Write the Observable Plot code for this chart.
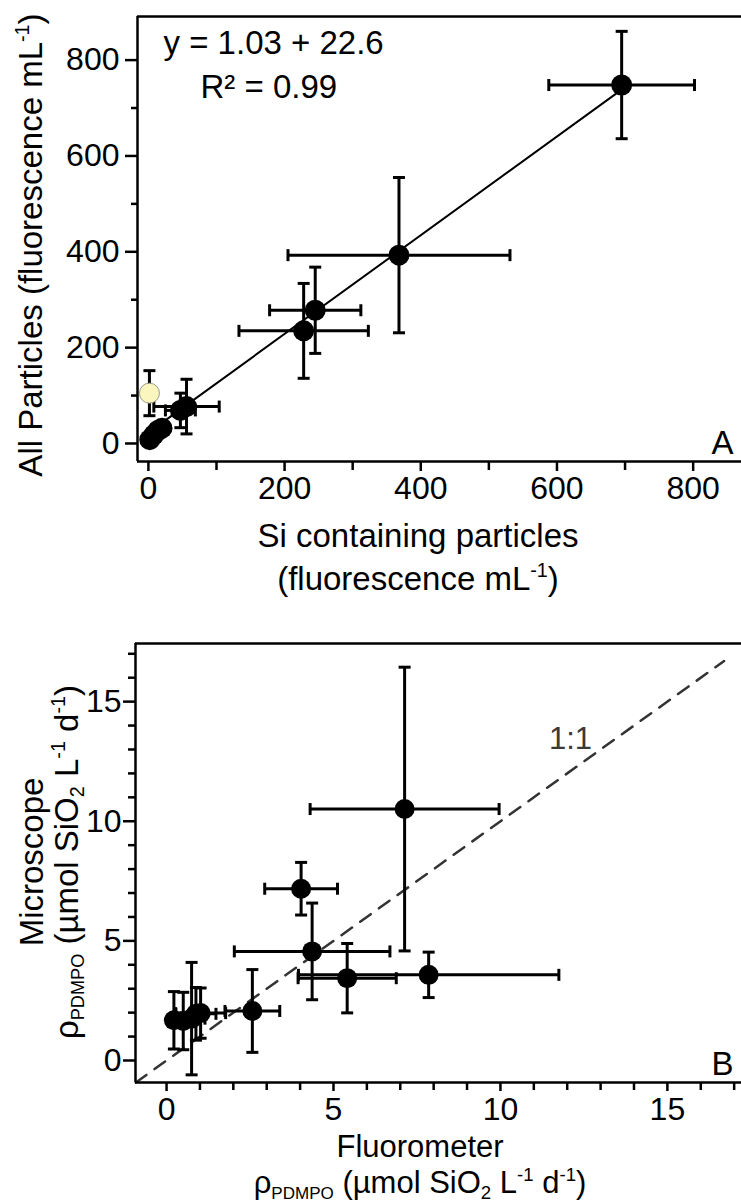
<!DOCTYPE html>
<html><head><meta charset="utf-8">
<script src="https://cdn.jsdelivr.net/npm/d3@7"></script>
<script src="https://cdn.jsdelivr.net/npm/@observablehq/plot@0.6"></script>
<style>
body{margin:0;background:#fff;}
#c{width:741px;}
#c svg{display:block;}
</style></head><body><div id="c"></div>
<script>
// ---------- Panel A data ----------
const siParticles   = [695, 368, 245, 228, 56, 47, 2, 8, 14, 20];
const allParticles  = [748, 393, 278, 235, 77, 69, 8, 18, 27, 32];
const siErr         = [107, 163, 67, 95, 48, 22, 0, 0, 0, 0];
const allErr        = [112, 162, 90, 99, 57, 36, 0, 0, 0, 0];
const outlierSi     = [1.5];
const outlierAll    = [105];
const outlierAllErr = [47];
const fitSlope = 1.03, fitIntercept = 22.6;
const fitXs = [0, 695];
const aMajorTicks = [0, 200, 400, 600, 800];
const aMinorTicks = [100, 300, 500, 700];

// ---------- Panel B data ----------
const fluorometer = [7.13, 4.03, 4.36, 5.41, 7.85, 2.57, 0.22, 0.5, 0.75, 0.88, 1.02];
const microscope  = [10.51, 7.18, 4.56, 3.44, 3.58, 2.07, 1.68, 1.65, 1.75, 1.95, 1.98];
const fluorErr    = [2.83, 1.09, 2.33, 1.47, 3.9, 0.82, 0.15, 0.25, 0.4, 0.6, 0.75];
const microErr    = [5.93, 1.1, 2.02, 1.45, 0.95, 1.73, 1.2, 1.2, 2.35, 1.1, 1.05];
const oneToOneXs  = [-0.92, 16.7];
const bMajorTicks = [0, 5, 10, 15];
const bMinorTicks = [1, 2, 3, 4, 6, 7, 8, 9, 11, 12, 13, 14, 16, 17];

const FONT = '"Liberation Sans", Arial, Helvetica, sans-serif';
const hCap = {draw(ctx, size){ const r = Math.sqrt(size / Math.PI); ctx.moveTo(-r, 0); ctx.lineTo(r, 0); }};
const vCap = {draw(ctx, size){ const r = Math.sqrt(size / Math.PI); ctx.moveTo(0, -r); ctx.lineTo(0, r); }};

function errorMarks(rows, sw, capR) {
  const vr = rows.filter(d => d.ye > 0), hr = rows.filter(d => d.xe > 0);
  return [
    Plot.ruleX(vr, {x: "x", y1: d => d.y - d.ye, y2: d => d.y + d.ye, strokeWidth: sw, stroke: "black"}),
    Plot.ruleY(hr, {y: "y", x1: d => d.x - d.xe, x2: d => d.x + d.xe, strokeWidth: sw, stroke: "black"}),
    Plot.dot(vr.flatMap(d => [{x: d.x, y: d.y - d.ye}, {x: d.x, y: d.y + d.ye}]),
      {x: "x", y: "y", symbol: hCap, r: capR, stroke: "black", strokeWidth: sw, fill: "none"}),
    Plot.dot(hr.flatMap(d => [{x: d.x - d.xe, y: d.y}, {x: d.x + d.xe, y: d.y}]),
      {x: "x", y: "y", symbol: vCap, r: capR, stroke: "black", strokeWidth: sw, fill: "none"})
  ];
}

function addText(svg, x, y, rotate, anchor, parts, size) {
  const t = svg.append("text")
    .attr("transform", `translate(${x},${y})` + (rotate ? ` rotate(${rotate})` : ""))
    .attr("text-anchor", anchor).attr("font-family", FONT).attr("font-size", size)
    .attr("fill", "black");
  let shift = 0;
  for (const p of parts) {
    const s = t.append("tspan").text(p.t);
    const target = p.sup ? -size * 0.38 : p.sub ? size * 0.18 : 0;
    if (target !== shift) { s.attr("dy", target - shift); shift = target; }
    if (p.sup || p.sub) s.attr("font-size", size * (p.small || 0.6));
  }
  return t;
}

// ---------- Panel A ----------
const rowsA = siParticles.map((x, i) => ({x, y: allParticles[i], xe: siErr[i], ye: allErr[i]}));
const outRows = outlierSi.map((x, i) => ({x, y: outlierAll[i], xe: 0, ye: outlierAllErr[i]}));
const fitRows = fitXs.map(x => ({x, y: fitIntercept + fitSlope * x}));
const xA = [-16, 871], yA = [-37.6, 891];

const plotA = Plot.plot({
  width: 741, height: 610,
  marginLeft: 137, marginRight: 0, marginTop: 16, marginBottom: 149,
  x: {domain: xA}, y: {domain: yA},
  style: {fontSize: "32px", fontFamily: FONT, color: "black", background: "white"},
  marks: [
    Plot.line(fitRows, {x: "x", y: "y", stroke: "black", strokeWidth: 2}),
    ...errorMarks(rowsA, 3, 6),
    ...errorMarks(outRows, 3, 6),
    Plot.dot(rowsA, {x: "x", y: "y", r: 10.5, fill: "black"}),
    Plot.dot(outRows, {x: "x", y: "y", r: 10, fill: "#fbf6bd", stroke: "#9a9a8a", strokeWidth: 1}),
    Plot.ruleX([xA[0]], {strokeWidth: 2.5}),
    Plot.ruleY(yA, {strokeWidth: 2.5}),
    Plot.axisX({ticks: aMajorTicks, tickSize: 10, tickPadding: 5, strokeWidth: 2.5, label: null, tickFormat: d => String(d)}),
    Plot.axisX({ticks: aMinorTicks, tickSize: 9, strokeWidth: 2.5, label: null, text: null}),
    Plot.axisY({ticks: aMajorTicks, tickSize: 12, tickPadding: 6, strokeWidth: 2.5, label: null, tickFormat: d => String(d)}),
    Plot.axisY({ticks: aMinorTicks, tickSize: 6, strokeWidth: 2.5, label: null, text: null}),
    Plot.text(["y = 1.03 + 22.6"], {frameAnchor: "top-left", dx: 26, dy: 14, textAnchor: "start", lineAnchor: "top", fontSize: 33}),
    Plot.text(["R\u00b2 = 0.99"], {frameAnchor: "top-left", dx: 63, dy: 58, textAnchor: "start", lineAnchor: "top", fontSize: 33}),
    Plot.text(["A"], {frameAnchor: "bottom-right", dx: -8, dy: -8, textAnchor: "end", lineAnchor: "bottom", fontSize: 33})
  ]
});

// ---------- Panel B ----------
const rowsB = fluorometer.map((x, i) => ({x, y: microscope[i], xe: fluorErr[i], ye: microErr[i]}));
const oneRows = oneToOneXs.map(v => ({x: v, y: v}));
const xB = [-0.93, 17.22], yB = [-0.92, 17.43];

const plotB = Plot.plot({
  width: 741, height: 594,
  marginLeft: 135, marginRight: 0, marginTop: 33, marginBottom: 122,
  x: {domain: xB}, y: {domain: yB},
  style: {fontSize: "32px", fontFamily: FONT, color: "black", background: "white"},
  marks: [
    Plot.line(oneRows, {x: "x", y: "y", stroke: "#333", strokeWidth: 2.5, strokeDasharray: "13,10"}),
    Plot.text([{x: 12.1, y: 13.45, t: "1:1"}], {x: "x", y: "y", text: "t", fontSize: 31, fill: "#3a3a3a"}),
    ...errorMarks(rowsB, 3, 6),
    Plot.dot(rowsB, {x: "x", y: "y", r: 10, fill: "black"}),
    Plot.ruleX([xB[0]], {strokeWidth: 2.5}),
    Plot.ruleY(yB, {strokeWidth: 2.5}),
    Plot.axisX({ticks: bMajorTicks, tickSize: 9, tickPadding: 6, strokeWidth: 2.5, label: null, tickFormat: d => String(d)}),
    Plot.axisX({ticks: bMinorTicks, tickSize: 8, strokeWidth: 2.5, label: null, text: null}),
    Plot.axisY({ticks: bMajorTicks, tickSize: 12, tickPadding: 2, strokeWidth: 2.5, label: null, tickFormat: d => String(d)}),
    Plot.axisY({ticks: bMinorTicks, tickSize: 7, strokeWidth: 2.5, label: null, text: null}),
    Plot.text(["B"], {frameAnchor: "bottom-right", dx: -8, dy: -8, textAnchor: "end", lineAnchor: "bottom", fontSize: 33})
  ]
});

const c = document.getElementById("c");
c.appendChild(plotA);
c.appendChild(plotB);

// axis titles with super/subscripts
const sA = d3.select(plotA);
addText(sA, 42, 245, -90, "middle", [{t: "All Particles (fluorescence mL"}, {t: "-1", sup: true}, {t: ")"}], 33);
addText(sA, 418, 547, 0, "middle", [{t: "Si containing particles"}], 33);
addText(sA, 418, 590, 0, "middle", [{t: "(fluorescence mL"}, {t: "-1", sup: true}, {t: ")"}], 33);

const sB = d3.select(plotB);
addText(sB, 43, 252, -90, "middle", [{t: "Microscope"}], 33);
addText(sB, 78, 252, -90, "middle", [{t: "\u03c1"}, {t: "PDMPO", sub: true, small: 0.55}, {t: " (\u00b5mol SiO"}, {t: "2", sub: true}, {t: " L"}, {t: "-1", sup: true}, {t: " d"}, {t: "-1", sup: true}, {t: ")"}], 33);
addText(sB, 420, 547, 0, "middle", [{t: "Fluorometer"}], 31);
addText(sB, 420, 583, 0, "middle", [{t: "\u03c1"}, {t: "PDMPO", sub: true, small: 0.55}, {t: " (\u00b5mol SiO"}, {t: "2", sub: true}, {t: " L"}, {t: "-1", sup: true}, {t: " d"}, {t: "-1", sup: true}, {t: ")"}], 31);
</script></body></html>
